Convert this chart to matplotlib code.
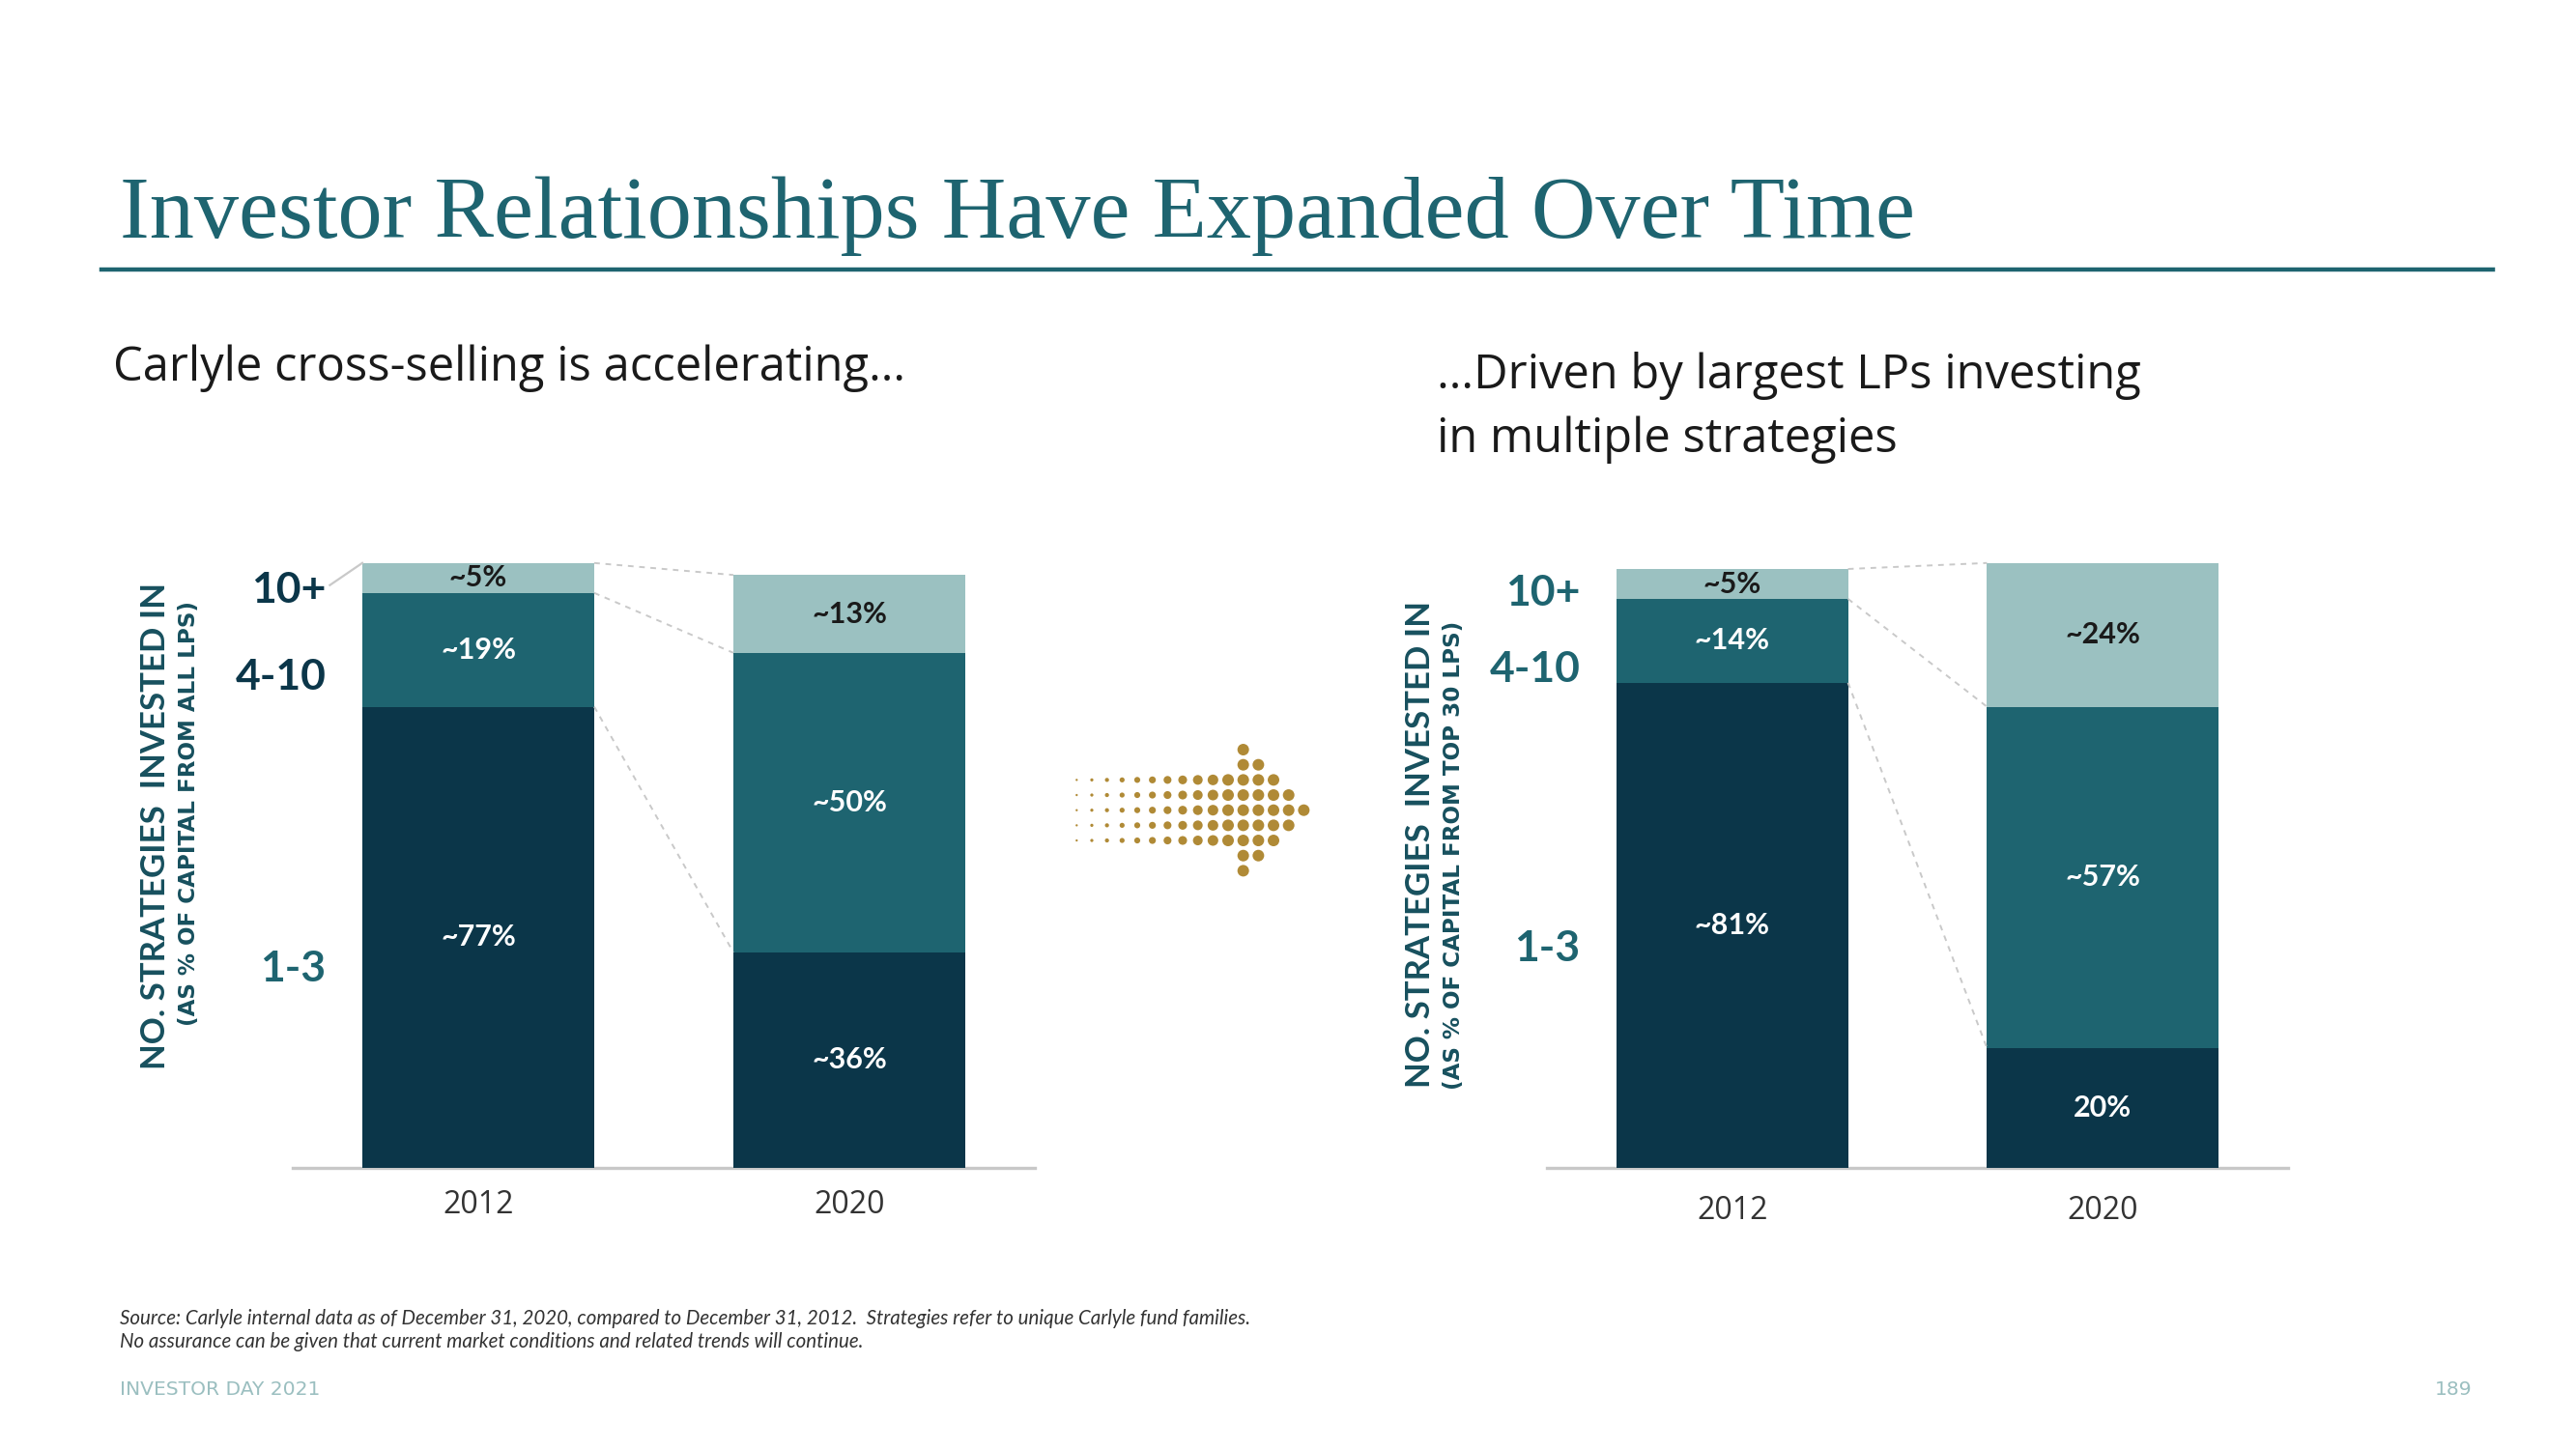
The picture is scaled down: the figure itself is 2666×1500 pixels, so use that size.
import numpy as np
import matplotlib.pyplot as plt

# ---- data ----
years = ["2012", "2020"]
buckets = ["1-3", "4-10", "10+"]

# share of capital from all LPs (%)
all_13 = [77, 36]
all_410 = [19, 50]
all_10p = [5, 13]
all_text = [["~77%", "~36%"], ["~19%", "~50%"], ["~5%", "~13%"]]

# share of capital from top 30 LPs (%)
top_13 = [81, 20]
top_410 = [14, 57]
top_10p = [5, 24]
top_text = [["~81%", "20%"], ["~14%", "~57%"], ["~5%", "~24%"]]

NAVY = "#0b3649"
TEAL = "#1e6470"
LIGHT = "#9bc1c1"
GOLD = "#b08a36"
SEG_COLORS = [NAVY, TEAL, LIGHT]
TXT_COLORS = ["white", "white", "#1a1a1a"]

W, H = 2666, 1500
DPI = 200
fig = plt.figure(figsize=(W / DPI, H / DPI), dpi=DPI)
fig.patch.set_facecolor("white")
SANS = ["Lato", "DejaVu Sans"]
WIDE = ["Open Sans", "DejaVu Sans"]


def px_axes(x0, y0, x1, y1):
    """axes from pixel box (top-left origin)"""
    return fig.add_axes([x0 / W, 1 - y1 / H, (x1 - x0) / W, (y1 - y0) / H])


def draw_panel(ax, stacks, texts, label_y, label_colors, tick_pad, pointer=False):
    x = np.arange(len(years))
    width = 0.625
    bottom = np.zeros(len(years))
    tops = []
    for vals, col, txt, tcol in zip(stacks, SEG_COLORS, texts, TXT_COLORS):
        vals = np.array(vals, dtype=float)
        ax.bar(x, vals, width, bottom=bottom, color=col, edgecolor="none")
        for xi, b, v, t in zip(x, bottom, vals, txt):
            ax.text(xi, b + v / 2, t, ha="center", va="center", color=tcol,
                    fontsize=11, fontweight="bold", family=SANS)
        bottom = bottom + vals
        tops.append(bottom.copy())

    # dashed connectors between segment boundaries
    for t in tops:
        ax.plot([x[0] + width / 2, x[1] - width / 2], [t[0], t[1]],
                ls=(0, (3, 3)), color="#c9c9c9", lw=0.7)

    # bucket labels on the left
    for name, yy, c in zip(buckets, label_y, label_colors):
        ax.text(-0.41, yy, name, ha="right", va="center", color=c,
                fontsize=16, fontweight="bold", family=SANS)
    if pointer:
        ax.plot([-0.40, -0.3125], [97.3, tops[-1][0]], color="#c9c9c9", lw=0.8,
                clip_on=False)

    ax.set_xlim(-0.5, 1.5)
    ax.set_ylim(0, 110)
    ax.set_xticks(x)
    ax.set_xticklabels(years, family=WIDE, fontsize=11.5, color="#333333")
    ax.tick_params(axis="x", length=0, pad=tick_pad)
    ax.set_yticks([])
    for s in ["left", "right", "top"]:
        ax.spines[s].set_visible(False)
    ax.spines["bottom"].set_color("#c8c8c8")
    ax.spines["bottom"].set_linewidth(1.2)
    for sp in ax.spines.values():
        sp.set_zorder(0)


ax1 = px_axes(303, 527, 1071, 1209)
draw_panel(ax1, [all_13, all_410, all_10p], all_text,
           [33.3, 82, 96.4], [TEAL, NAVY, NAVY], tick_pad=8, pointer=True)

ax2 = px_axes(1601, 527, 2368, 1209)
draw_panel(ax2, [top_13, top_410, top_10p], top_text,
           [36.6, 83.3, 96], [TEAL, TEAL, TEAL], tick_pad=10)

# rotated axis titles
for xm, ym, xs, ys, sub in [(161, 855, 195.5, 842, "(AS % OF CAPITAL FROM ALL LPS)"),
                            (1470, 874, 1504.5, 885, "(AS % OF CAPITAL FROM TOP 30 LPS)")]:
    fig.text(xm / W, 1 - ym / H, "NO. STRATEGIES  INVESTED IN", rotation=90,
             ha="center", va="center", fontsize=12.5, fontweight="bold",
             color="#17505e", family=SANS)
    fig.text(xs / W, 1 - ys / H, sub, rotation=90,
             ha="center", va="center", fontsize=8.3, fontweight="bold",
             color="#17505e", family=["DejaVu Sans"])

# dotted arrow in the middle
axa = px_axes(1090, 760, 1375, 920)
axa.set_xlim(1090, 1375)
axa.set_ylim(920, 760)
axa.axis("off")
step = 15.67
for col in range(16):
    cx = 1114.3 + col * step
    if col <= 11:
        half = 2 if col < 11 else 4
    else:
        half = 15 - col
    d = min(2.3 + col * 0.97, 12.0)
    size = (d * 72 / DPI) ** 2
    rows = np.arange(-half, half + 1)
    axa.scatter(np.full(len(rows), cx), 838.7 + rows * step, s=size,
                color=GOLD, edgecolors="none")

# title and rule
fig.text(124 / W, 1 - 246 / H, "Investor Relationships Have Expanded Over Time",
         ha="left", va="baseline", fontsize=33.2, color=TEAL,
         family=["Liberation Serif", "DejaVu Serif"])
fig.add_artist(plt.Line2D([105 / W, 2580 / W], [1 - 279 / H, 1 - 279 / H],
                          color=TEAL, lw=1.6))

# subtitles
fig.text(117 / W, 1 - 381 / H, "Carlyle cross-selling is accelerating\u2026",
         ha="left", va="center", fontsize=17.6, color="#1a1a1a", family=WIDE)
fig.text(1487 / W, 1 - 389 / H, "\u2026Driven by largest LPs investing",
         ha="left", va="center", fontsize=17.6, color="#1a1a1a", family=WIDE)
fig.text(1487 / W, 1 - 455 / H, "in multiple strategies",
         ha="left", va="center", fontsize=17.6, color="#1a1a1a", family=WIDE)

# footnotes
fig.text(124 / W, 1 - 1365 / H,
         "Source: Carlyle internal data as of December 31, 2020, compared to December 31, 2012.  "
         "Strategies refer to unique Carlyle fund families.",
         ha="left", va="center", fontsize=7.4, style="italic", color="#333333", family=SANS)
fig.text(124 / W, 1 - 1389 / H,
         "No assurance can be given that current market conditions and related trends will continue.",
         ha="left", va="center", fontsize=7.4, style="italic", color="#333333", family=SANS)
fig.text(124 / W, 1 - 1438 / H, "INVESTOR DAY 2021", ha="left", va="center",
         fontsize=7.3, color="#9bbfc0", family=["DejaVu Sans"])
fig.text(2558 / W, 1 - 1438 / H, "189", ha="right", va="center",
         fontsize=7.3, color="#9bbfc0", family=["DejaVu Sans"])

fig.savefig("out.png", dpi=DPI)
